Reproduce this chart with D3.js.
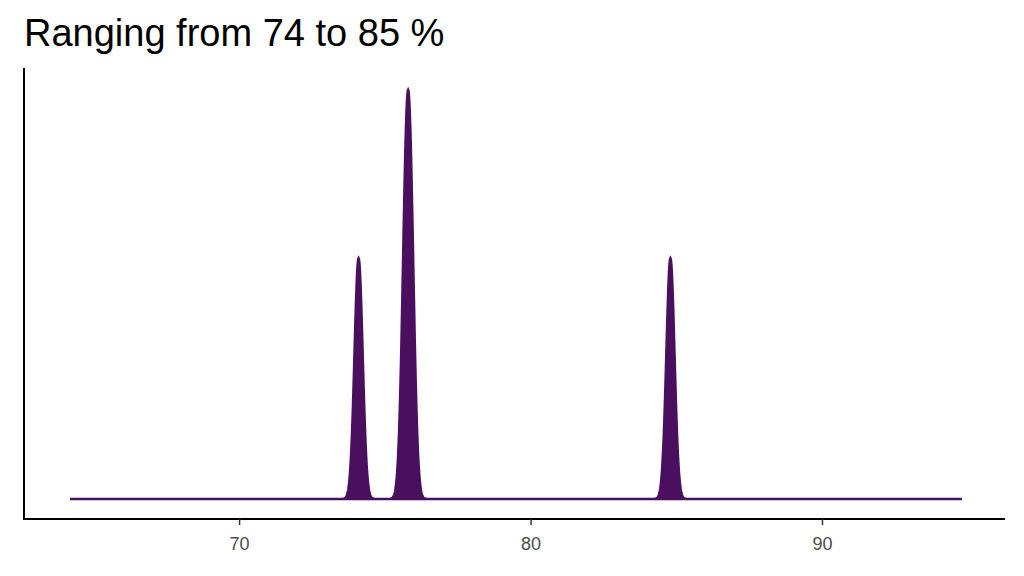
<!DOCTYPE html>
<html>
<head>
<meta charset="utf-8">
<script src="https://d3js.org/d3.v7.min.js"></script>
<style>body{margin:0;background:#fff;font-family:"Liberation Sans",Arial,sans-serif;}</style>
</head>
<body>
<svg id="chart" width="1024" height="576"></svg>
<script>
// observed values (percent) and plotting range
const observations = [74.1, 75.72, 75.88, 84.8];
const bandwidth = 0.14;
const xTicks = [70, 80, 90];
const evalRange = [64.2, 94.8];

const svg = d3.select("#chart");
const x = d3.scaleLinear().domain([62.62, 96.28]).range([24, 1005]);

// gaussian kernel density
const grid = d3.range(evalRange[0], evalRange[1] + 0.001, 0.01);
const kde = grid.map(v => [v, d3.sum(observations, o =>
  Math.exp(-0.5 * ((v - o) / bandwidth) ** 2)) / (observations.length * bandwidth * Math.sqrt(2 * Math.PI))]);

const y = d3.scaleLinear().domain([0, d3.max(kde, d => d[1])]).range([499, 90]);

const area = d3.area().x(d => x(d[0])).y0(y(0)).y1(d => y(d[1]));
svg.append("path").datum(kde).attr("d", area)
  .attr("fill", "#4a0f5f").attr("stroke", "#4a0f5f").attr("stroke-width", 2.5);

// axes
svg.append("line").attr("x1", 24).attr("x2", 24).attr("y1", 68).attr("y2", 520)
  .attr("stroke", "#000").attr("stroke-width", 2);
const xAxis = svg.append("g").attr("transform", "translate(0,519)")
  .call(d3.axisBottom(x).tickValues(xTicks).tickSize(6).tickSizeOuter(0));
xAxis.attr("font-size", null).attr("font-family", null);
xAxis.select(".domain").attr("stroke", "#000").attr("stroke-width", 2)
  .attr("d", "M23,0H1005");
xAxis.selectAll(".tick line").attr("stroke", "#333").attr("stroke-width", 1.5);
xAxis.selectAll(".tick text").attr("fill", "#4d4d4d").attr("dy", "1.2em")
  .style("font-size", "18px").style("font-family", "Liberation Sans, Arial, sans-serif");

svg.append("text").attr("x", 24).attr("y", 46).style("font-size", "38px")
  .attr("fill", "#000").text("Ranging from 74 to 85 %");
</script>
</body>
</html>
